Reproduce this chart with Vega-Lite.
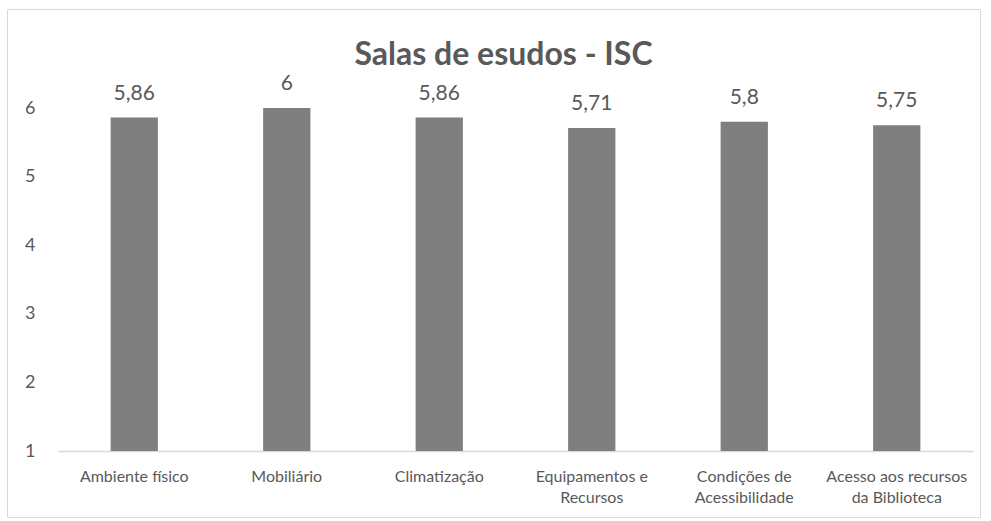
{
  "$schema": "https://vega.github.io/schema/vega-lite/v6.json",
  "width": 973,
  "height": 508,
  "autosize": {"type": "none"},
  "padding": {"left": 7, "top": 9, "right": 11, "bottom": 4},
  "background": "white",
  "title": {
    "text": "Salas de esudos - ISC",
    "font": "Lato",
    "fontSize": 32,
    "fontWeight": "bold",
    "color": "#595959",
    "anchor": "middle",
    "baseline": "alphabetic",
    "dx": 10,
    "offset": -88
  },
  "config": {
    "view": {"stroke": "#d9d9d9", "strokeWidth": 1},
    "font": "Lato",
    "locale": {
      "number": {"decimal": ",", "thousands": ".", "grouping": [3], "currency": ["", " €"]}
    }
  },
  "data": {
    "values": [
      {"item": "Ambiente físico", "score": 5.86},
      {"item": "Mobiliário", "score": 6},
      {"item": "Climatização", "score": 5.86},
      {"item": "Equipamentos e\nRecursos", "score": 5.71},
      {"item": "Condições de\nAcessibilidade", "score": 5.8},
      {"item": "Acesso aos recursos\nda Biblioteca", "score": 5.75}
    ]
  },
  "encoding": {
    "x": {
      "field": "item",
      "type": "nominal",
      "sort": null,
      "scale": {"range": [51, 966], "paddingInner": 0.69, "paddingOuter": 0.345},
      "axis": {
        "title": null,
        "orient": "bottom",
        "offset": -66,
        "labelAngle": 0,
        "labelExpr": "split(datum.label, '\\n')",
        "labelFont": "Lato",
        "labelFontSize": 16,
        "labelColor": "#595959",
        "labelLineHeight": 21,
        "labelBaseline": "top",
        "labelPadding": 17,
        "ticks": false,
        "domainColor": "#d9d9d9",
        "domainWidth": 1.3,
        "labelLimit": 0
      }
    },
    "y": {
      "field": "score",
      "type": "quantitative",
      "scale": {"domain": [1, 6], "range": [442, 99], "zero": false, "nice": false},
      "axis": {
        "title": null,
        "offset": -30,
        "values": [1, 2, 3, 4, 5, 6],
        "domain": false,
        "ticks": false,
        "grid": false,
        "labelFont": "Lato",
        "labelFontSize": 18,
        "labelColor": "#595959",
        "labelPadding": 2
      }
    }
  },
  "layer": [
    {
      "mark": {"type": "bar", "color": "#7f7f7f"},
      "encoding": {"y2": {"datum": 1}}
    },
    {
      "mark": {"type": "text", "font": "Lato", "fontSize": 21, "color": "#595959", "baseline": "alphabetic", "dy": -18},
      "encoding": {
        "text": {"field": "score", "type": "quantitative", "format": ".2~f"}
      }
    }
  ]
}
